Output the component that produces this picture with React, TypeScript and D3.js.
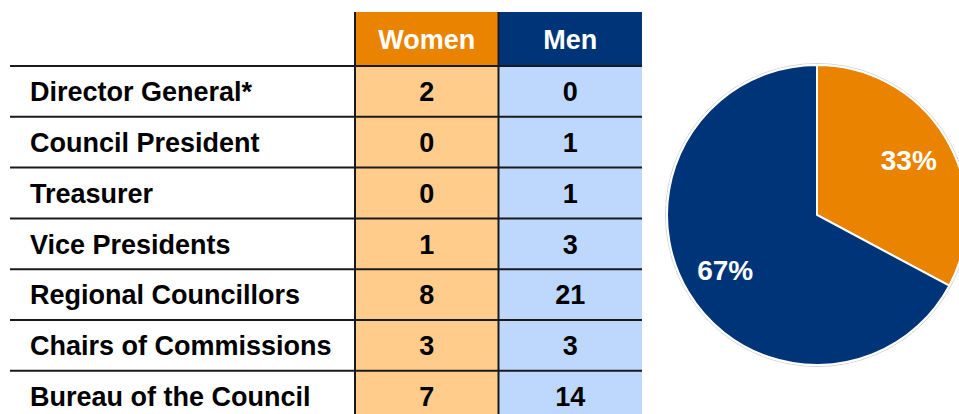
import React from 'react';
import * as d3 from 'd3';

const roles = [
  'Director General*',
  'Council President',
  'Treasurer',
  'Vice Presidents',
  'Regional Councillors',
  'Chairs of Commissions',
  'Bureau of the Council',
];
const groups = ['Women', 'Men'];
const women = [2, 0, 0, 1, 8, 3, 7];
const men = [0, 1, 1, 3, 21, 3, 14];

const headerFill = ['#e98300', '#003478'];
const cellFill = ['#ffcc8c', '#bdd7fd'];

const W = 959;
const H = 414;
const font = '"Liberation Sans", Arial, sans-serif';
const fs = 27;

export default function App() {
  const y = d3.scaleBand<string>().domain(roles).range([66, 66 + 50.8 * roles.length]);
  const x = d3.scaleBand<string>().domain(groups).range([355, 642]);
  const headTop = 12;
  const rowTop = y.range()[0];
  const bottom = y.range()[1];
  const values = [women, men];

  const totals = values.map(v => d3.sum(v));
  const pie = d3.pie<number>().sort(null)(totals);
  const r = 150;
  const arc = d3.arc<d3.PieArcDatum<number>>().innerRadius(0).outerRadius(r);
  const labelArc = d3.arc<d3.PieArcDatum<number>>().innerRadius(107).outerRadius(107);
  const all = d3.sum(totals);
  const pct = d3.format('.0%');

  return (
    <svg width={W} height={H} style={{ position: 'absolute', left: 0, top: 0 }} fontFamily={font}>
      <rect width={W} height={H} fill="#fff" />
      {/* header */}
      {groups.map((g, i) => (
        <g key={g}>
          <rect x={x(g)} y={headTop} width={x.bandwidth()} height={rowTop - headTop} fill={headerFill[i]} />
          <text x={x(g)! + x.bandwidth() / 2} y={(headTop + rowTop) / 2 + 9.5} textAnchor="middle"
            fill="#fff" fontWeight="bold" fontSize={fs}>{g}</text>
        </g>
      ))}
      {/* cells */}
      {roles.map((role, ri) => (
        <g key={role}>
          {groups.map((g, gi) => (
            <rect key={g} x={x(g)} y={y(role)} width={x.bandwidth()} height={y.bandwidth()} fill={cellFill[gi]} />
          ))}
        </g>
      ))}
      {/* grid lines */}
      {roles.map(role => (
        <line key={role} x1={10} x2={642} y1={y(role)} y2={y(role)} stroke="#1a1a1a" strokeWidth={2} />
      ))}
      {groups.map(g => (
        <line key={g} x1={x(g)} x2={x(g)} y1={headTop} y2={bottom} stroke="#1a1a1a" strokeWidth={2} />
      ))}
      {/* text */}
      {roles.map((role, ri) => (
        <g key={role}>
          <text x={30} y={y(role)! + y.bandwidth() / 2 + 9.7} fontWeight="bold" fontSize={fs} fill="#000">{role}</text>
          {groups.map((g, gi) => (
            <text key={g} x={x(g)! + x.bandwidth() / 2} y={y(role)! + y.bandwidth() / 2 + 9.7}
              textAnchor="middle" fontWeight="bold" fontSize={fs} fill="#000">{values[gi][ri]}</text>
          ))}
        </g>
      ))}
      {/* pie */}
      <g transform="translate(817,215)">
        <circle r={r + 1.5} fill="none" stroke="#d4d4d4" strokeWidth={1} />
        {pie.map((d, i) => (
          <path key={i} d={arc(d)!} fill={headerFill[i]} stroke="#fff" strokeWidth={2} />
        ))}
        {pie.map((d, i) => {
          const [cx, cy] = labelArc.centroid(d);
          return (
            <text key={i} x={cx} y={cy + 10} textAnchor="middle" fill="#fff" fontWeight="bold" fontSize={28}>
              {pct(d.value / all)}
            </text>
          );
        })}
      </g>
    </svg>
  );
}
